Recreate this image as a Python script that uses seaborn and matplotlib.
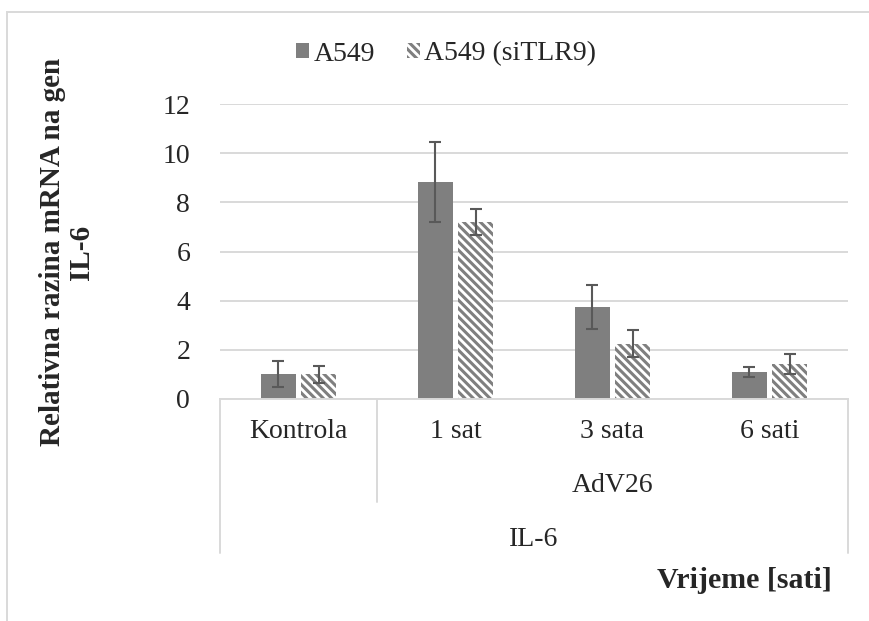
import numpy as np
import matplotlib.pyplot as plt
import matplotlib.transforms as mtrans
from matplotlib.patches import Patch, Rectangle
import seaborn as sns
import pandas as pd

# values
categories = ['Kontrola', '1 sat', '3 sata', '6 sati']
groups = ['A549', 'A549 (siTLR9)']
a549 = [1.02, 8.82, 3.74, 1.10]
a549_err = [0.53, 1.64, 0.90, 0.20]
sitlr9 = [1.00, 7.21, 2.24, 1.41]
sitlr9_err = [0.36, 0.53, 0.55, 0.41]
ytick_vals = [0, 2, 4, 6, 8, 10, 12]

df = pd.DataFrame({
    'Vrijeme': categories * 2,
    'Linija': [groups[0]] * 4 + [groups[1]] * 4,
    'vrijednost': a549 + sitlr9,
})

sns.set_style('white')
plt.rcParams['font.family'] = ['Liberation Serif', 'DejaVu Serif']
plt.rcParams['hatch.linewidth'] = 2.2
plt.rcParams['hatch.color'] = '#7f7f7f'

grey = '#7f7f7f'
light = '#d9d9d9'
stripes = '\\\\\\\\'
W, H = 869, 621

fig, ax = plt.subplots(figsize=(W / 100, H / 100), dpi=100)
ax.set_position([220 / W, 1 - 399 / H, (848 - 220) / W, (399 - 104) / H])

sns.barplot(data=df, x='Vrijeme', y='vrijednost', hue='Linija',
            palette=[grey, 'white'], saturation=1, width=0.51, gap=0.125,
            errorbar=None, legend=False, ax=ax)

# striped bars for the siRNA line
for p in ax.containers[1]:
    p.set_facecolor('white')
    p.set_edgecolor(grey)
    p.set_hatch(stripes)
    p.set_linewidth(0)
for p in ax.containers[0]:
    p.set_linewidth(0)

# error bars at the bar centres
for cont, vals, errs in [(ax.containers[0], a549, a549_err),
                         (ax.containers[1], sitlr9, sitlr9_err)]:
    xs = [p.get_x() + p.get_width() / 2 for p in cont]
    ax.errorbar(xs, vals, yerr=errs, fmt='none', ecolor='#595959',
                elinewidth=1.5, capsize=4.5, capthick=1.5, zorder=5)

ax.set_xlim(-0.5, 3.5)
ax.set_ylim(0, 12)
ax.set_yticks(ytick_vals)
ax.tick_params(axis='y', length=0, pad=21.5, labelsize=20)
ax.set_xticks([])
ax.set_xlabel('')
ax.set_ylabel('')
ax.yaxis.grid(True, color=light, lw=1.4)
ax.set_axisbelow(True)
for s in ['top', 'right', 'left']:
    ax.spines[s].set_visible(False)
ax.spines['bottom'].set_color(light)
ax.spines['bottom'].set_linewidth(1.4)

# multi-level category axis
blend = mtrans.blended_transform_factory(ax.transData, fig.transFigure)
fy = lambda y: 1 - y / H
for i, c in enumerate(categories):
    ax.text(i, fy(432), c, transform=blend, ha='center', va='center', fontsize=20)
ax.text(2, fy(485), 'AdV26', transform=blend, ha='center', va='center', fontsize=20)
ax.text(1.5, fy(540), 'IL-6', transform=blend, ha='center', va='center', fontsize=20)
for xv, ybot in [(-0.5, 553), (0.5, 502), (3.5, 553)]:
    ax.plot([xv, xv], [fy(399), fy(ybot)], transform=blend, color=light,
            lw=1.4, clip_on=False)

# axis titles
fig.text(67 / W, fy(252), 'Relativna razina mRNA na gen\nIL-6', rotation=90,
         ha='center', va='center', multialignment='center', linespacing=1.1,
         fontsize=21, fontweight='bold')
fig.text(832 / W, fy(581), 'Vrijeme [sati]', ha='right', va='center',
         fontsize=21.5, fontweight='bold')

# legend
handles = [Patch(facecolor=grey, linewidth=0),
           Patch(facecolor='white', edgecolor=grey, hatch=stripes, linewidth=0)]
fig.legend(handles, groups, loc='center', bbox_to_anchor=(446 / W, fy(54)),
           ncol=2, frameon=False, fontsize=20, handlelength=0.47,
           handleheight=0.47, handletextpad=0.15, columnspacing=1.15)

# outer chart border
fig.add_artist(Rectangle((7 / W, -0.05), 1.2, fy(12) + 0.05, transform=fig.transFigure,
                         fill=False, edgecolor=light, lw=1.4))

fig.savefig('out.png', dpi=100)
